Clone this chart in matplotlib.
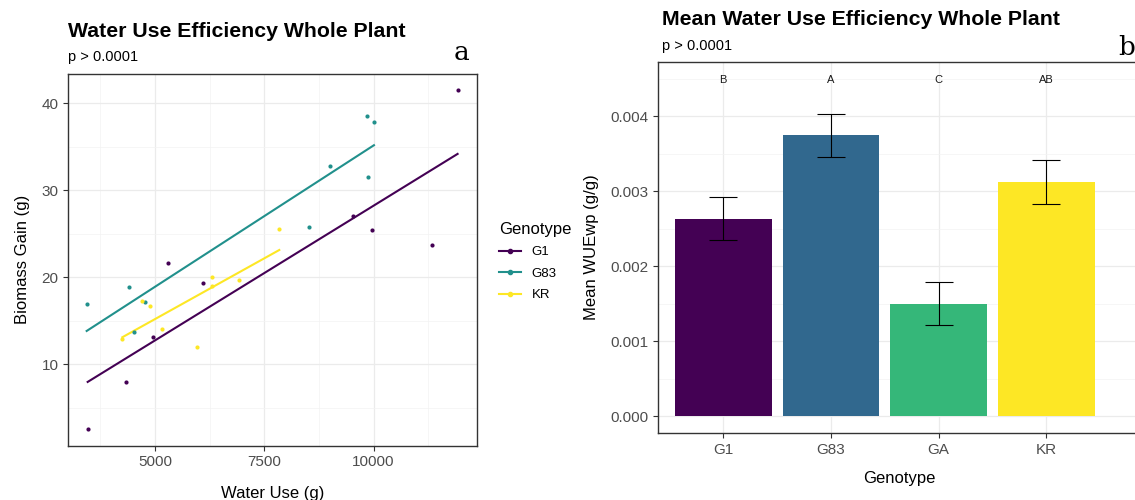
import numpy as np
import matplotlib.pyplot as plt
from matplotlib.lines import Line2D
from matplotlib.ticker import MultipleLocator

# Whole plant data: water use (g) and biomass gain (g) per genotype
g1_water = [11921, 9520, 9970, 11326, 5305, 6105, 4954, 4329, 3460]
g1_gain = [41.5, 27.1, 25.4, 23.7, 21.7, 19.4, 13.1, 8.0, 2.6]
g83_water = [9848, 10008, 9002, 9870, 8521, 4413, 4771, 3437, 4520]
g83_gain = [38.5, 37.9, 32.8, 31.5, 25.8, 18.9, 17.2, 16.9, 13.7]
kr_water = [7843, 6296, 6921, 6296, 4695, 4893, 5160, 4253, 5960]
kr_gain = [25.5, 20.0, 19.7, 19.0, 17.3, 16.7, 14.1, 12.9, 12.0]

# Mean WUEwp per genotype with error bars
genotypes = ["G1", "G83", "GA", "KR"]
wue_mean = [0.002638, 0.003746, 0.001504, 0.003123]
wue_err = [0.000287, 0.000290, 0.000289, 0.000290]
letters = ["B", "A", "C", "AB"]

scatter_cols = {"G1": "#440154", "G83": "#21908C", "KR": "#FDE725"}
bar_cols = ["#440154", "#31688E", "#35B779", "#FDE725"]

plt.rcParams['font.family'] = ['Liberation Sans', 'DejaVu Sans']

W, H = 1135, 500
fig = plt.figure(figsize=(W / 100, H / 100), dpi=100)


def box(x0, y0, x1, y1):
    return [x0 / W, 1 - y1 / H, (x1 - x0) / W, (y1 - y0) / H]


def style_axes(ax):
    for s in ax.spines.values():
        s.set_color("#333333")
        s.set_linewidth(1.0)
    ax.tick_params(colors="#333333", labelcolor="#4d4d4d", labelsize=11,
                   length=3.5, width=0.8, which="major")
    ax.tick_params(which="minor", length=0)
    ax.grid(True, which="major", color="#ebebeb", linewidth=0.9)
    ax.grid(True, which="minor", color="#f3f3f3", linewidth=0.5)
    ax.set_axisbelow(True)


# ---- a: scatter with linear fits ----
ax1 = fig.add_axes(box(68.3, 74, 476.7, 445.7))
groups = [("G1", g1_water, g1_gain), ("G83", g83_water, g83_gain), ("KR", kr_water, kr_gain)]
handles = []
for name, wx, gy in groups:
    wx = np.array(wx, dtype=float)
    gy = np.array(gy, dtype=float)
    col = scatter_cols[name]
    k, b = np.polyfit(wx, gy, 1)
    xs = np.linspace(wx.min(), wx.max(), 50)
    ax1.plot(xs, k * xs + b, color=col, lw=1.5, zorder=3)
    ax1.scatter(wx, gy, s=9, color=col, zorder=4, linewidths=0)
    handles.append(Line2D([], [], color=col, lw=1.5, marker="o", markersize=3, label=name))
ax1.set_xlim(3017, 12358)
ax1.set_ylim(0.64, 43.37)
ax1.xaxis.set_major_locator(MultipleLocator(2500))
ax1.xaxis.set_minor_locator(MultipleLocator(1250))
ax1.yaxis.set_major_locator(MultipleLocator(10))
ax1.yaxis.set_minor_locator(MultipleLocator(5))
ax1.set_xticks([5000, 7500, 10000])
style_axes(ax1)
ax1.set_xlabel("Water Use (g)", fontsize=12, color="black", labelpad=12)
ax1.set_ylabel("Biomass Gain (g)", fontsize=12, color="black", labelpad=8)
fig.text(68 / W, 1 - 37 / H, "Water Use Efficiency Whole Plant", fontsize=15.3,
         fontweight="bold", ha="left", va="baseline")
fig.text(68 / W, 1 - 61 / H, "p > 0.0001", fontsize=10.5, ha="left", va="baseline")
fig.text(461 / W, 1 - 60 / H, "a", fontsize=19, family="DejaVu Serif",
         ha="center", va="baseline")

ax1.legend(handles=handles, loc="upper left", bbox_to_anchor=(487 / W, 1 - 210 / H),
           bbox_transform=fig.transFigure, frameon=False, title="Genotype",
           fontsize=9.5, title_fontsize=12, handlelength=1.7,
           labelspacing=0.7, alignment="left")

# ---- b: mean WUE bars ----
ax2 = fig.add_axes(box(658.3, 61.7, 1140, 433.3))
pos = np.arange(1, len(genotypes) + 1)
ax2.bar(pos, wue_mean, width=0.9, color=bar_cols, zorder=2)
ax2.errorbar(pos, wue_mean, yerr=wue_err, fmt="none", ecolor="black",
             elinewidth=0.8, capsize=10, capthick=0.8, zorder=3)
for p, lab in zip(pos, letters):
    ax2.text(p, 0.00449, lab, ha="center", va="center", fontsize=8, color="#1a1a1a")
ax2.set_xlim(0.3965, 4.87)
ax2.set_ylim(-0.000227, 0.00473)
ax2.set_xticks(pos)
ax2.set_xticklabels(genotypes)
ax2.yaxis.set_major_locator(MultipleLocator(0.001))
ax2.yaxis.set_minor_locator(MultipleLocator(0.0005))
ax2.yaxis.set_major_formatter(plt.FormatStrFormatter("%.3f"))
style_axes(ax2)
ax2.set_xlabel("Genotype", fontsize=12, color="black", labelpad=10)
ax2.set_ylabel("Mean WUEwp (g/g)", fontsize=12, color="black", labelpad=8)
fig.text(662 / W, 1 - 25 / H, "Mean Water Use Efficiency Whole Plant", fontsize=15.3,
         fontweight="bold", ha="left", va="baseline")
fig.text(662 / W, 1 - 50 / H, "p > 0.0001", fontsize=10.5, ha="left", va="baseline")
fig.text(1127 / W, 1 - 55 / H, "b", fontsize=19, family="DejaVu Serif",
         ha="center", va="baseline")

fig.savefig("out.png", dpi=100, facecolor="white")
